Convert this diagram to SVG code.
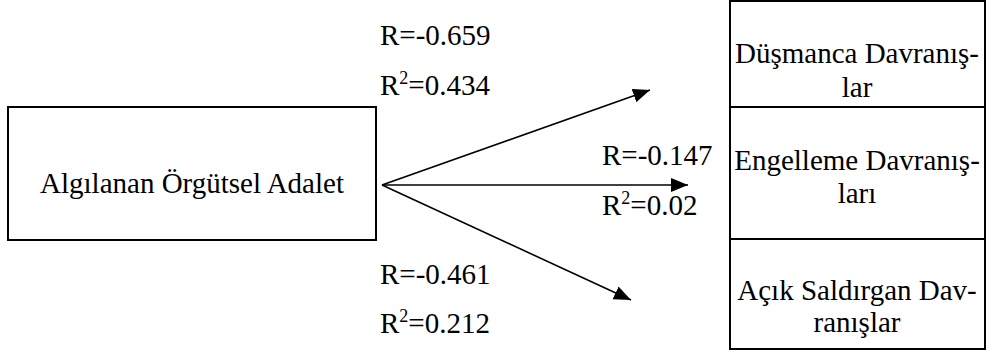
<svg xmlns="http://www.w3.org/2000/svg" width="986" height="352" viewBox="0 0 986 352" font-family="'Liberation Serif', 'DejaVu Serif', serif">
<style>
text{font-family:'Liberation Serif','DejaVu Serif',serif;font-size:29px;fill:#000}
.box{fill:#fff;stroke:#000;stroke-width:2}
.c{text-anchor:middle}
.arr{stroke:#000;stroke-width:1.6;fill:none;marker-end:url(#ah)}
.sup{font-size:18px}
</style>
<defs>
<marker id="ah" markerUnits="userSpaceOnUse" markerWidth="18" markerHeight="15" refX="17" refY="7" orient="auto">
<path d="M0,0 L17,7 L0,14 z" fill="#000"/>
</marker>
</defs>
<rect width="986" height="352" fill="#fff"/>
<g id="node-adalet">
<rect class="box" x="8" y="107" width="368" height="133"/>
<text class="c" x="192" y="193">Algılanan Örgütsel Adalet</text>
</g>
<g id="node-dusmanca">
<rect class="box" x="730" y="1" width="255" height="106"/>
<text class="c" x="857" y="63">Düşmanca Davranış-</text>
<text class="c" x="857" y="97">lar</text>
</g>
<g id="node-engelleme">
<rect class="box" x="730" y="107" width="255" height="132"/>
<text class="c" x="857" y="170">Engelleme Davranış-</text>
<text class="c" x="857" y="203">ları</text>
</g>
<g id="node-acik">
<rect class="box" x="730" y="239" width="255" height="110"/>
<text class="c" x="857" y="300">Açık Saldırgan Dav-</text>
<text class="c" x="857" y="332">ranışlar</text>
</g>
<g id="connectors">
<line class="arr" x1="382" y1="185" x2="650" y2="90"/>
<line class="arr" x1="382" y1="185" x2="688" y2="185"/>
<line class="arr" x1="382" y1="185" x2="631" y2="300"/>
</g>
<g id="labels">
<text x="380" y="45">R=-0.659</text>
<text x="380" y="95">R<tspan class="sup" dy="-11">2</tspan><tspan dy="11">=0.434</tspan></text>
<text x="602" y="165">R=-0.147</text>
<text x="602" y="215">R<tspan class="sup" dy="-11">2</tspan><tspan dy="11">=0.02</tspan></text>
<text x="380" y="284">R=-0.461</text>
<text x="380" y="333">R<tspan class="sup" dy="-11">2</tspan><tspan dy="11">=0.212</tspan></text>
</g>
</svg>
